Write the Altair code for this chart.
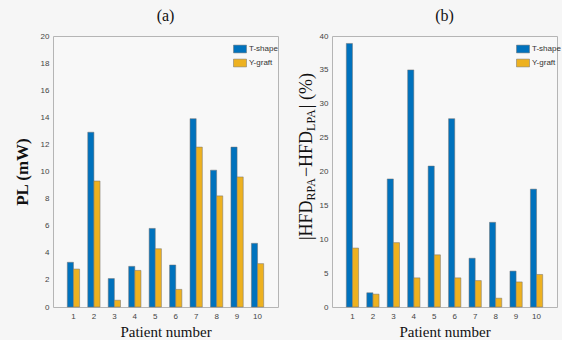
import altair as alt
import pandas as pd

patients = [1, 2, 3, 4, 5, 6, 7, 8, 9, 10]
series_names = ["T-shape", "Y-graft"]
pl_tshape = [3.3, 12.9, 2.1, 3.0, 5.8, 3.1, 13.9, 10.1, 11.8, 4.7]
pl_ygraft = [2.8, 9.3, 0.5, 2.7, 4.3, 1.3, 11.8, 8.2, 9.6, 3.2]
hfd_tshape = [38.9, 2.1, 18.9, 35.0, 20.8, 27.8, 7.2, 12.5, 5.3, 17.4]
hfd_ygraft = [8.7, 1.9, 9.5, 4.3, 7.7, 4.3, 3.9, 1.3, 3.7, 4.8]
pl_ticks = [0, 2, 4, 6, 8, 10, 12, 14, 16, 18, 20]
hfd_ticks = [0, 5, 10, 15, 20, 25, 30, 35, 40]

colors = ["#0072BD", "#EDB120"]
SERIF = "Liberation Serif"
SANS = "Liberation Sans"
W, H = 225, 271


def long_df(t, y):
    rows = []
    for p, a, b in zip(patients, t, y):
        rows.append({"Patient": p, "Series": series_names[0], "Value": a})
        rows.append({"Patient": p, "Series": series_names[1], "Value": b})
    return pd.DataFrame(rows)


def bars(df, ymax, ticks, ytitle, lx, ly):
    yaxis_kw = dict(values=ticks, labelFont=SANS, labelFontSize=8, labelColor="#444444",
                    ticks=False, domain=False, grid=False, labelPadding=4)
    if ytitle:
        yaxis_kw.update(title=ytitle, titleFont=SERIF, titleFontSize=17,
                        titleFontWeight="bold", titleColor="#111111", titlePadding=9)
    y = alt.Y("Value:Q", scale=alt.Scale(domain=[0, ymax], nice=False),
              axis=alt.Axis(**yaxis_kw))
    if not ytitle:
        y = alt.Y("Value:Q", scale=alt.Scale(domain=[0, ymax], nice=False),
                  axis=alt.Axis(**yaxis_kw), title=None)
    return alt.Chart(df).mark_bar(stroke="#707070", strokeWidth=0.5).encode(
        x=alt.X("Patient:O", title="Patient number",
                scale=alt.Scale(paddingInner=0.4, paddingOuter=0.7),
                axis=alt.Axis(labelAngle=0, labelFont=SANS, labelFontSize=8,
                              labelColor="#444444", ticks=False, domain=False,
                              labelPadding=5, titleFont=SERIF, titleFontSize=15,
                              titleFontWeight="normal", titleColor="#111111",
                              titlePadding=4)),
        xOffset=alt.XOffset("Series:N", sort=series_names),
        y=y,
        color=alt.Color("Series:N",
                        scale=alt.Scale(domain=series_names, range=colors),
                        legend=alt.Legend(title=None, orient="none", legendX=lx, legendY=ly,
                                          symbolType="M-1,-0.6L1,-0.6L1,0.6L-1,0.6Z",
                                          symbolSize=169, symbolStrokeColor="#707070",
                                          symbolStrokeWidth=0.5, labelFont=SANS,
                                          labelFontSize=8, labelColor="#333333",
                                          labelOffset=2, rowPadding=2, padding=0)),
    )


panel_a = bars(long_df(pl_tshape, pl_ygraft), 20, pl_ticks, "PL (mW)", 180, 6).properties(
    width=W, height=H,
    title=alt.Title("(a)", font=SERIF, fontSize=16, fontWeight="normal", color="#111111", offset=8),
)

# composed y title for panel (b) with subscripts
one = pd.DataFrame({"k": [0]})
segments = [
    ("|HFD", 18, -20, 204),
    ("RPA", 12, -17, 164.4),
    ("\u2212HFD", 18, -20, 141.1),
    ("LPA", 12, -17, 94.9),
    ("| (%)", 18, -20, 72.2),
]
title_marks = []
for txt, size, xo, yo in segments:
    title_marks.append(
        alt.Chart(one).mark_text(text=txt, font=SERIF, fontSize=size, angle=270,
                                 align="left", baseline="alphabetic", color="#111111")
        .encode(x=alt.value(xo), y=alt.value(yo))
    )

bars_b = bars(long_df(hfd_tshape, hfd_ygraft), 40, hfd_ticks, None, 184, 6)
panel_b = alt.layer(bars_b, *title_marks).properties(
    width=W, height=H,
    title=alt.Title("(b)", font=SERIF, fontSize=16, fontWeight="normal", color="#111111", offset=8),
)

chart = alt.hconcat(panel_a, panel_b, spacing=18).resolve_scale(color="independent").properties(
    background="#f6f6f6",
    padding={"left": 12, "top": 7, "right": 0, "bottom": 0},
).configure_view(stroke="#b5b5b5", strokeWidth=1, fill="#f8f8f8")

chart.save("out.html", embed_options={"renderer": "svg", "actions": False})
